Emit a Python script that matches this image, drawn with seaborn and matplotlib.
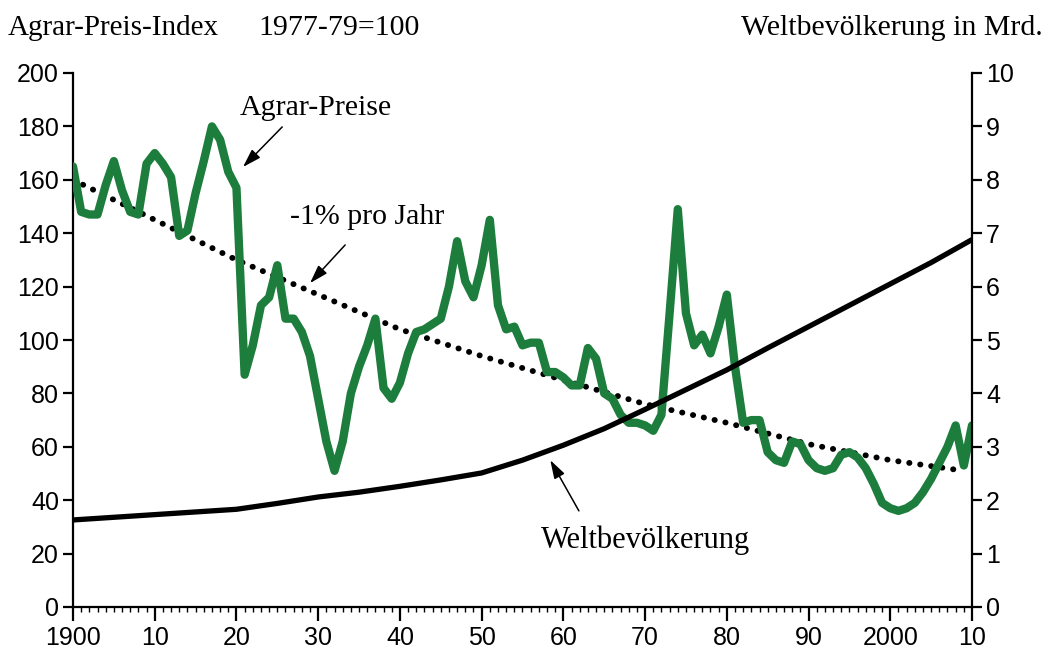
import numpy as np
import pandas as pd
import matplotlib
matplotlib.use("Agg")
import matplotlib.pyplot as plt
import seaborn as sns
from matplotlib.ticker import MultipleLocator

# Agrar-Preis-Index (1977-79=100), yearly values
price_years = list(range(1900, 2011))
price_index = [
    165, 148, 147, 147, 158, 167, 156, 148, 147, 166,   # 1900-1909
    170, 166, 161, 139, 141, 155, 167, 180, 175, 163,   # 1910-1919
    157, 87, 98, 113, 116, 128, 108, 108, 103, 94,      # 1920-1929
    78, 62, 51, 62, 80, 90, 98, 108, 82, 78,            # 1930-1939
    84, 95, 103, 104, 106, 108, 120, 137, 122, 116,     # 1940-1949
    128, 145, 113, 104, 105, 98, 99, 99, 88, 88,        # 1950-1959
    86, 83, 83, 97, 93, 80, 78, 72, 69, 69,             # 1960-1969
    68, 66, 72, 110, 149, 110, 98, 102, 95, 105,        # 1970-1979
    117, 90, 69, 70, 70, 58, 55, 54, 62, 61,            # 1980-1989
    55, 52, 51, 52, 57, 58, 56, 52, 46, 39,             # 1990-1999
    37, 36, 37, 39, 43, 48, 54, 60, 68, 53,             # 2000-2009
    68,                                                 # 2010
]

# -1% pro Jahr trend line (left axis), read per decade
trend_years = [1900, 1910, 1920, 1930, 1940, 1950, 1960, 1970, 1980, 1990, 2000, 2009]
trend_index = [160, 145, 130, 117, 104, 94, 85, 76, 69, 61, 55, 51]

# Weltbevoelkerung in Mrd. (right axis), every 5 years
pop_years = list(range(1900, 2011, 5))
pop_bn = [1.63, 1.68, 1.73, 1.78, 1.83, 1.94, 2.06, 2.15, 2.26, 2.38,
          2.51, 2.75, 3.03, 3.34, 3.70, 4.07, 4.44, 4.85, 5.25, 5.65,
          6.05, 6.45, 6.88]

x_ticks = list(range(1900, 2011, 10))
x_labels = ["1900", "10", "20", "30", "40", "50", "60", "70", "80", "90", "2000", "10"]

sns.set_style("ticks")
plt.rcParams["font.family"] = ["Liberation Sans", "DejaVu Sans"]
plt.rcParams["text.color"] = "black"
plt.rcParams["xtick.color"] = "black"
plt.rcParams["ytick.color"] = "black"
plt.rcParams["axes.labelcolor"] = "black"
serif = ["Liberation Serif", "DejaVu Serif"]

fig = plt.figure(figsize=(10.48, 6.55), dpi=100)
ax = fig.add_axes([73 / 1048, 48 / 655, 899 / 1048, 534 / 655])
ax2 = ax.twinx()

green = "#1d7d3c"

df_price = pd.DataFrame({"year": price_years, "value": price_index})
df_trend = pd.DataFrame({"year": trend_years, "value": trend_index})
df_pop = pd.DataFrame({"year": pop_years, "value": pop_bn})

sns.lineplot(data=df_trend, x="year", y="value", ax=ax, color="black",
             linewidth=4.2, linestyle=(0, (0.05, 1.85)), dash_capstyle="round",
             zorder=2)
sns.lineplot(data=df_price, x="year", y="value", ax=ax, color=green,
             linewidth=6, solid_joinstyle="round", zorder=3)
sns.lineplot(data=df_pop, x="year", y="value", ax=ax2, color="black",
             linewidth=3.8, zorder=4)

ax.set_xlim(1900, 2010)
ax.set_ylim(0, 200)
ax2.set_ylim(0, 10)
ax.set_yticks(range(0, 201, 20))
ax2.set_yticks(range(0, 11))
ax.set_xticks(x_ticks)
ax.set_xticklabels(x_labels)
ax.xaxis.set_minor_locator(MultipleLocator(1))
ax.set_xlabel("")
ax.set_ylabel("")
ax2.set_ylabel("")

for a in (ax, ax2):
    a.spines["top"].set_visible(False)
    for s in ("left", "right", "bottom"):
        a.spines[s].set_linewidth(1.6)
        a.spines[s].set_color("black")
ax.spines["right"].set_visible(False)
ax2.spines["left"].set_visible(False)
ax2.spines["bottom"].set_visible(False)

ax.tick_params(axis="y", length=7, width=1.6, labelsize=18, pad=3)
ax2.tick_params(axis="y", length=7, width=1.6, labelsize=18, pad=3)
ax.tick_params(axis="x", which="major", length=10, width=1.6, labelsize=18, pad=4)
ax.tick_params(axis="x", which="minor", length=3.5, width=1.0)
ax.set_facecolor("white")

# annotations with arrows
arrow = dict(arrowstyle="-|>,head_length=0.7,head_width=0.22", color="black",
             lw=1.1, mutation_scale=16, shrinkA=0, shrinkB=0)
ax.text(1929.7, 187, "Agrar-Preise", fontsize=21.5, family=serif,
        ha="center", va="center")
ax.annotate("", xy=(1920.8, 164.8), xytext=(1925.6, 179.8), arrowprops=arrow)
ax.text(1936.0, 146, "-1% pro Jahr", fontsize=21.5, family=serif,
        ha="center", va="center")
ax.annotate("", xy=(1929.0, 121.3), xytext=(1933.3, 135.6), arrowprops=arrow)
ax.text(1970.0, 25, "Weltbevölkerung", fontsize=22, family=serif,
        ha="center", va="center")
ax.annotate("", xy=(1958.4, 55), xytext=(1961.9, 36), arrowprops=arrow)

fig.text(8 / 1048, 1 - 28 / 655, "Agrar-Preis-Index", fontsize=21,
         family=serif, ha="left", va="center")
fig.text(258 / 1048, 1 - 28 / 655, "1977-79=100", fontsize=21.5,
         family=serif, ha="left", va="center")
fig.text(1043 / 1048, 1 - 28 / 655, "Weltbevölkerung in Mrd.", fontsize=21.5,
         family=serif, ha="right", va="center")

fig.savefig("out.png", dpi=100, facecolor="white")
plt.close(fig)
